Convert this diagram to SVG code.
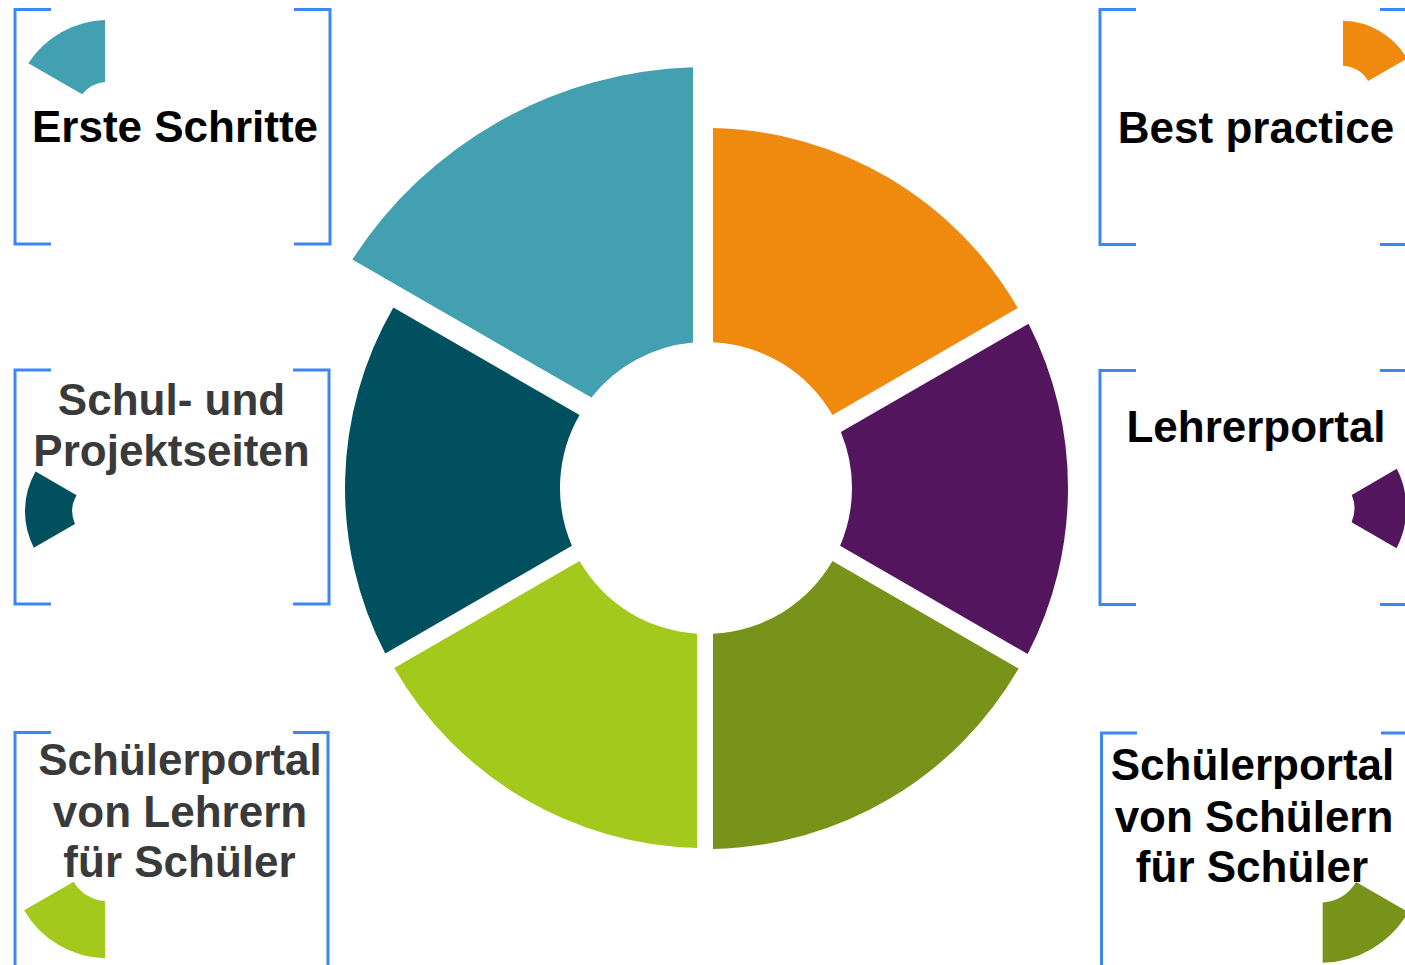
<svg xmlns="http://www.w3.org/2000/svg" xmlns:xlink="http://www.w3.org/1999/xlink" width="1405" height="965" viewBox="0 0 1405 965">
<style>
.br{fill:none;stroke:#3d86f5;stroke-width:3}
.t{font-family:"Liberation Sans",Arial,sans-serif;font-weight:bold;font-size:44px;text-anchor:middle}
.k{fill:#000}
.g{fill:#3a3a3a}
.c1{fill:#42a0b0}.c2{fill:#f08a0e}.c3{fill:#53165e}.c4{fill:#77931a}.c5{fill:#a3c91d}.c6{fill:#01505f}
</style>
<defs>
<path id="sOrange" d="M7,-359.93 A360,360 0 0 1 311.77,-180 L126.44,-73 A146,146 0 0 0 7,-145.83 Z"/>
<path id="sPurple" d="M322.56,-164.3 A362,362 0 0 1 321.65,166.08 L134.08,57.78 A146,146 0 0 0 134.86,-55.93 Z"/>
<path id="sOlive" d="M312.63,180.5 A361,361 0 0 1 7,360.93 L7,145.83 A146,146 0 0 0 126.44,73 Z"/>
<path id="sLight" d="M-9,359.89 A360,360 0 0 1 -311.77,180 L-126.44,73 A146,146 0 0 0 -9,145.72 Z"/>
<path id="sDark" d="M-320.78,165.58 A361,361 0 0 1 -312.63,-180.5 L-126.44,-73 A146,146 0 0 0 -134.08,57.78 Z"/>
<path id="sTeal" d="M-353.64,-228.43 A421,421 0 0 1 -13,-420.8 L-13,-145.42 A146,146 0 0 0 -114.62,-90.43 Z"/>
</defs>
<rect width="1405" height="965" fill="#fff"/>

<g id="ring" transform="translate(706,488)">
<use xlink:href="#sTeal" class="c1"/>
<use xlink:href="#sOrange" class="c2"/>
<use xlink:href="#sPurple" class="c3"/>
<use xlink:href="#sOlive" class="c4"/>
<use xlink:href="#sLight" class="c5"/>
<use xlink:href="#sDark" class="c6"/>
</g>

<g id="erste-schritte">
<path class="br" d="M51,9.5 H15 V244 H51"/>
<path class="br" d="M294,9.5 H330 V244 H294"/>
<use xlink:href="#sTeal" class="c1" transform="translate(107.9,114.7) scale(0.225)"/>
<text class="t k" x="175" y="142">Erste Schritte</text>
</g>

<g id="best-practice">
<path class="br" d="M1136,9.5 H1100 V244.5 H1136"/>
<path class="br" d="M1380,9.5 H1416 V244.5 H1380"/>
<use xlink:href="#sOrange" class="c2" transform="translate(1341.5,96.3) scale(0.21)"/>
<text class="t k" x="1256" y="143">Best practice</text>
</g>

<g id="schul-projektseiten">
<path class="br" d="M51,370 H15 V604 H51"/>
<path class="br" d="M293,370 H329 V604 H293"/>
<use xlink:href="#sDark" class="c6" transform="translate(104.4,511.2) scale(0.22)"/>
<text class="t g" x="171.5" y="415">Schul- und</text>
<text class="t g" x="171.5" y="466">Projektseiten</text>
</g>

<g id="lehrerportal">
<path class="br" d="M1136,370.5 H1100 V604.5 H1136"/>
<path class="br" d="M1380,370.5 H1416 V604.5 H1380"/>
<use xlink:href="#sPurple" class="c3" transform="translate(1319.4,508.3) scale(0.24)"/>
<text class="t k" x="1256" y="442">Lehrerportal</text>
</g>

<g id="schuelerportal-lehrer">
<path class="br" d="M51,732.5 H15 V980"/>
<path class="br" d="M293,732.5 H328 V980"/>
<use xlink:href="#sLight" class="c5" transform="translate(107.4,862.2) scale(0.267)"/>
<text class="t g" x="180" y="775">Schülerportal</text>
<text class="t g" x="180" y="826.5">von Lehrern</text>
<text class="t g" x="179.5" y="877">für Schüler</text>
</g>

<g id="schuelerportal-schueler">
<path class="br" d="M1137,733 H1101.5 V980"/>
<path class="br" d="M1381,733 H1416"/>
<use xlink:href="#sOlive" class="c4" transform="translate(1320.7,861.6) scale(0.28)"/>
<text class="t k" x="1252.5" y="780">Schülerportal</text>
<text class="t k" x="1254" y="831.5">von Schülern</text>
<text class="t k" x="1252" y="881.5">für Schüler</text>
</g>
</svg>
